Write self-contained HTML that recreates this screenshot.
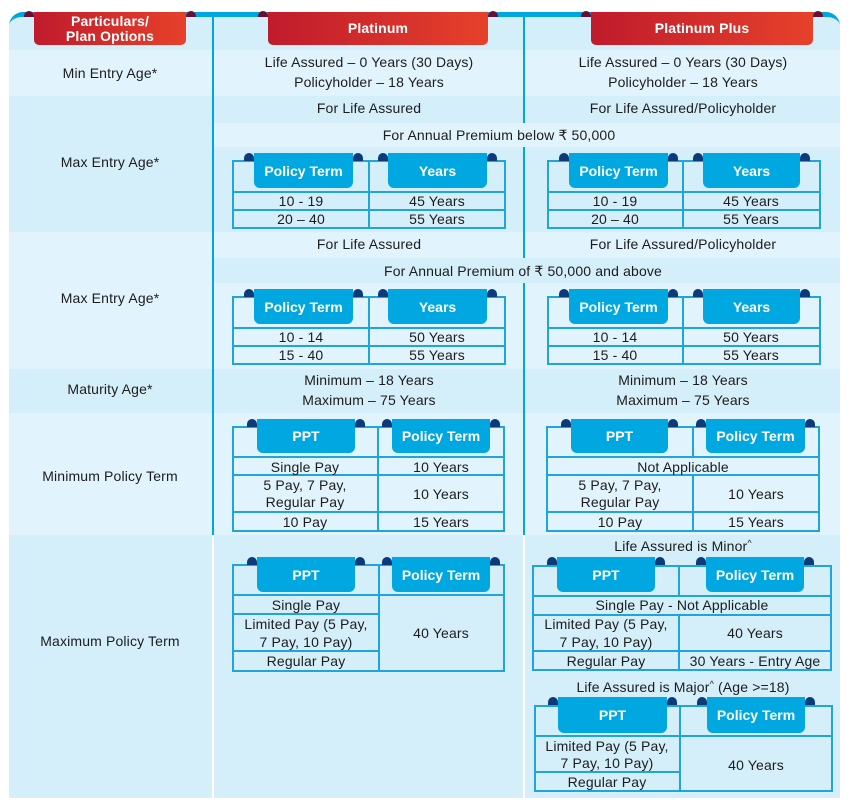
<!DOCTYPE html>
<html><head><meta charset="utf-8">
<style>
html,body{margin:0;padding:0;background:#fff;}
body{width:850px;height:802px;position:relative;overflow:hidden;font-family:"Liberation Sans","DejaVu Sans",sans-serif;}
.a{position:absolute;}
.t{position:absolute;transform:translate(-50%,-50%);white-space:nowrap;font-size:14px;color:#1c1c1c;line-height:1;letter-spacing:0.15px;}
.dk{position:absolute;background:#d4eefa;}
.lt{position:absolute;background:#e1f3fc;}
.h{position:absolute;height:2px;background:#1fa4dc;}
.v{position:absolute;width:2px;background:#1fa4dc;}
.tab{position:absolute;background:#00a7e0;border-radius:0 0 6px 6px;color:#fff;font-weight:bold;font-size:14px;display:flex;align-items:center;justify-content:center;white-space:nowrap;}
.b{position:absolute;width:10px;height:8px;background:#0c3b7c;border-radius:5px 5px 0 0;}
.rt{position:absolute;top:12px;height:33px;background:linear-gradient(90deg,#bf1b2c,#e6412b);border-radius:0 0 5px 5px;color:#fff;font-weight:bold;font-size:14px;}
.mb{position:absolute;top:11px;width:10px;height:6px;background:#6b0e33;border-radius:5px 5px 0 0;}
.wl{color:#fff;font-weight:bold;}
sup{font-size:9px;vertical-align:5px;line-height:0;}
</style></head><body>

<div class="a" style="left:9px;top:12px;width:831px;height:786px;box-sizing:border-box;border-top:5px solid #00a6e0;border-radius:14px 14px 0 0;overflow:hidden;">
 <div class="a" style="left:-9px;top:-17px;width:850px;height:802px;">
  <!-- left column backgrounds -->
  <div class="dk" style="left:9px;top:17px;width:203px;height:33px"></div>
  <div class="lt" style="left:9px;top:50px;width:203px;height:46px"></div>
  <div class="dk" style="left:9px;top:96px;width:203px;height:136px"></div>
  <div class="lt" style="left:9px;top:232px;width:203px;height:137px"></div>
  <div class="dk" style="left:9px;top:369px;width:203px;height:44px"></div>
  <div class="lt" style="left:9px;top:413px;width:203px;height:122px"></div>
  <div class="dk" style="left:9px;top:535px;width:203px;height:263px"></div>
  <!-- right backgrounds -->
  <div class="dk" style="left:212px;top:17px;width:628px;height:33px"></div>
  <div class="lt" style="left:212px;top:50px;width:628px;height:46px"></div>
  <div class="dk" style="left:212px;top:96px;width:628px;height:27px"></div>
  <div class="lt" style="left:212px;top:123px;width:628px;height:24px"></div>
  <div class="dk" style="left:212px;top:147px;width:628px;height:85px"></div>
  <div class="lt" style="left:212px;top:232px;width:628px;height:26px"></div>
  <div class="dk" style="left:212px;top:258px;width:628px;height:25px"></div>
  <div class="lt" style="left:212px;top:283px;width:628px;height:86px"></div>
  <div class="dk" style="left:212px;top:369px;width:628px;height:44px"></div>
  <div class="lt" style="left:212px;top:413px;width:628px;height:122px"></div>
  <div class="dk" style="left:212px;top:535px;width:628px;height:263px"></div>
  <!-- dividers -->
  <div class="a" style="left:212px;top:17px;width:2px;height:518px;background:#00a6e0"></div>
  <div class="a" style="left:523px;top:17px;width:2px;height:106px;background:#00a6e0"></div>
  <div class="a" style="left:523px;top:147px;width:2px;height:111px;background:#00a6e0"></div>
  <div class="a" style="left:523px;top:283px;width:2px;height:252px;background:#00a6e0"></div>
  <div class="a" style="left:212px;top:535px;width:2px;height:263px;background:#fff"></div>
  <div class="a" style="left:523px;top:535px;width:2px;height:263px;background:#fff"></div>
 </div>
</div>

<!-- red header tabs -->
<div class="rt" style="left:34px;width:152px;"></div>
<div class="mb" style="left:24px"></div><div class="mb" style="left:186px"></div>
<div class="rt" style="left:268px;width:220px;"></div>
<div class="mb" style="left:258px"></div><div class="mb" style="left:488px"></div>
<div class="rt" style="left:591px;width:222px;"></div>
<div class="mb" style="left:581px"></div><div class="mb" style="left:813px"></div>
<div class="t wl" style="left:110px;top:21px">Particulars/</div>
<div class="t wl" style="left:110px;top:36px">Plan Options</div>
<div class="t wl" style="left:378px;top:28px">Platinum</div>
<div class="t wl" style="left:702px;top:28px">Platinum Plus</div>

<!-- left labels -->
<div class="t" style="left:110px;top:73px">Min Entry Age*</div>
<div class="t" style="left:110px;top:162px">Max Entry Age*</div>
<div class="t" style="left:110px;top:298px">Max Entry Age*</div>
<div class="t" style="left:110px;top:389px">Maturity Age*</div>
<div class="t" style="left:110px;top:476px">Minimum Policy Term</div>
<div class="t" style="left:110px;top:641px">Maximum Policy Term</div>

<!-- plain rows -->
<div class="t" style="left:369px;top:62px">Life Assured – 0 Years (30 Days)</div>
<div class="t" style="left:369px;top:82px">Policyholder – 18 Years</div>
<div class="t" style="left:683px;top:62px">Life Assured – 0 Years (30 Days)</div>
<div class="t" style="left:683px;top:82px">Policyholder – 18 Years</div>
<div class="t" style="left:369px;top:108px">For Life Assured</div>
<div class="t" style="left:683px;top:108px">For Life Assured/Policyholder</div>
<div class="t" style="left:499px;top:135px">For Annual Premium below ₹ 50,000</div>
<div class="t" style="left:369px;top:244px">For Life Assured</div>
<div class="t" style="left:683px;top:244px">For Life Assured/Policyholder</div>
<div class="t" style="left:523px;top:271px">For Annual Premium of ₹ 50,000 and above</div>
<div class="t" style="left:369px;top:380px">Minimum – 18 Years</div>
<div class="t" style="left:369px;top:400px">Maximum – 75 Years</div>
<div class="t" style="left:683px;top:380px">Minimum – 18 Years</div>
<div class="t" style="left:683px;top:400px">Maximum – 75 Years</div>

<!-- T1 -->
<div class="h" style="left:233px;top:160px;width:273px"></div>
<div class="h" style="left:233px;top:191px;width:273px"></div>
<div class="h" style="left:233px;top:209px;width:273px"></div>
<div class="h" style="left:233px;top:227px;width:273px"></div>
<div class="v" style="left:232px;top:160px;height:69px"></div>
<div class="v" style="left:368px;top:160px;height:69px"></div>
<div class="v" style="left:504px;top:160px;height:69px"></div>
<div class="tab" style="left:254px;top:153px;width:99px;height:35px">Policy Term</div>
<div class="tab" style="left:388px;top:153px;width:99px;height:35px">Years</div>
<div class="b" style="left:244px;top:153px"></div><div class="b" style="left:353px;top:153px"></div>
<div class="b" style="left:378px;top:153px"></div><div class="b" style="left:487px;top:153px"></div>
<div class="t" style="left:301px;top:201px">10 - 19</div>
<div class="t" style="left:437px;top:201px">45 Years</div>
<div class="t" style="left:301px;top:219px">20 – 40</div>
<div class="t" style="left:437px;top:219px">55 Years</div>

<!-- T1b -->
<div class="h" style="left:548px;top:160px;width:273px"></div>
<div class="h" style="left:548px;top:191px;width:273px"></div>
<div class="h" style="left:548px;top:209px;width:273px"></div>
<div class="h" style="left:548px;top:227px;width:273px"></div>
<div class="v" style="left:547px;top:160px;height:69px"></div>
<div class="v" style="left:682px;top:160px;height:69px"></div>
<div class="v" style="left:819px;top:160px;height:69px"></div>
<div class="tab" style="left:569px;top:153px;width:99px;height:35px">Policy Term</div>
<div class="tab" style="left:703px;top:153px;width:97px;height:35px">Years</div>
<div class="b" style="left:559px;top:153px"></div><div class="b" style="left:668px;top:153px"></div>
<div class="b" style="left:693px;top:153px"></div><div class="b" style="left:800px;top:153px"></div>
<div class="t" style="left:615px;top:201px">10 - 19</div>
<div class="t" style="left:751px;top:201px">45 Years</div>
<div class="t" style="left:615px;top:219px">20 – 40</div>
<div class="t" style="left:751px;top:219px">55 Years</div>

<!-- T2 -->
<div class="h" style="left:233px;top:296px;width:273px"></div>
<div class="h" style="left:233px;top:327px;width:273px"></div>
<div class="h" style="left:233px;top:345px;width:273px"></div>
<div class="h" style="left:233px;top:363px;width:273px"></div>
<div class="v" style="left:232px;top:296px;height:69px"></div>
<div class="v" style="left:368px;top:296px;height:69px"></div>
<div class="v" style="left:504px;top:296px;height:69px"></div>
<div class="tab" style="left:254px;top:289px;width:99px;height:35px">Policy Term</div>
<div class="tab" style="left:388px;top:289px;width:99px;height:35px">Years</div>
<div class="b" style="left:244px;top:289px"></div><div class="b" style="left:353px;top:289px"></div>
<div class="b" style="left:378px;top:289px"></div><div class="b" style="left:487px;top:289px"></div>
<div class="t" style="left:301px;top:337px">10 - 14</div>
<div class="t" style="left:437px;top:337px">50 Years</div>
<div class="t" style="left:301px;top:355px">15 - 40</div>
<div class="t" style="left:437px;top:355px">55 Years</div>

<!-- T2b -->
<div class="h" style="left:548px;top:296px;width:273px"></div>
<div class="h" style="left:548px;top:327px;width:273px"></div>
<div class="h" style="left:548px;top:345px;width:273px"></div>
<div class="h" style="left:548px;top:363px;width:273px"></div>
<div class="v" style="left:547px;top:296px;height:69px"></div>
<div class="v" style="left:682px;top:296px;height:69px"></div>
<div class="v" style="left:819px;top:296px;height:69px"></div>
<div class="tab" style="left:569px;top:289px;width:99px;height:35px">Policy Term</div>
<div class="tab" style="left:703px;top:289px;width:97px;height:35px">Years</div>
<div class="b" style="left:559px;top:289px"></div><div class="b" style="left:668px;top:289px"></div>
<div class="b" style="left:693px;top:289px"></div><div class="b" style="left:800px;top:289px"></div>
<div class="t" style="left:615px;top:337px">10 - 14</div>
<div class="t" style="left:751px;top:337px">50 Years</div>
<div class="t" style="left:615px;top:355px">15 - 40</div>
<div class="t" style="left:751px;top:355px">55 Years</div>

<!-- T3 -->
<div class="h" style="left:233px;top:426px;width:272px"></div>
<div class="h" style="left:233px;top:456px;width:272px"></div>
<div class="h" style="left:233px;top:474px;width:272px"></div>
<div class="h" style="left:233px;top:511px;width:272px"></div>
<div class="h" style="left:233px;top:530px;width:272px"></div>
<div class="v" style="left:232px;top:426px;height:106px"></div>
<div class="v" style="left:377px;top:426px;height:106px"></div>
<div class="v" style="left:503px;top:426px;height:106px"></div>
<div class="tab" style="left:257px;top:419px;width:98px;height:34px">PPT</div>
<div class="tab" style="left:392px;top:419px;width:98px;height:34px">Policy Term</div>
<div class="b" style="left:247px;top:419px"></div><div class="b" style="left:355px;top:419px"></div>
<div class="b" style="left:382px;top:419px"></div><div class="b" style="left:490px;top:419px"></div>
<div class="t" style="left:305px;top:467px">Single Pay</div>
<div class="t" style="left:441px;top:467px">10 Years</div>
<div class="t" style="left:305px;top:485px">5 Pay, 7 Pay,</div>
<div class="t" style="left:305px;top:502px">Regular Pay</div>
<div class="t" style="left:441px;top:494px">10 Years</div>
<div class="t" style="left:305px;top:522px">10 Pay</div>
<div class="t" style="left:441px;top:522px">15 Years</div>

<!-- T3b -->
<div class="h" style="left:547px;top:426px;width:273px"></div>
<div class="h" style="left:547px;top:456px;width:273px"></div>
<div class="h" style="left:547px;top:474px;width:273px"></div>
<div class="h" style="left:547px;top:511px;width:273px"></div>
<div class="h" style="left:547px;top:530px;width:273px"></div>
<div class="v" style="left:546px;top:426px;height:106px"></div>
<div class="v" style="left:818px;top:426px;height:106px"></div>
<div class="v" style="left:692px;top:426px;height:31px"></div>
<div class="v" style="left:692px;top:474px;height:58px"></div>
<div class="tab" style="left:571px;top:419px;width:97px;height:34px">PPT</div>
<div class="tab" style="left:706px;top:419px;width:99px;height:34px">Policy Term</div>
<div class="b" style="left:561px;top:419px"></div><div class="b" style="left:668px;top:419px"></div>
<div class="b" style="left:696px;top:419px"></div><div class="b" style="left:805px;top:419px"></div>
<div class="t" style="left:683px;top:467px">Not Applicable</div>
<div class="t" style="left:620px;top:485px">5 Pay, 7 Pay,</div>
<div class="t" style="left:620px;top:502px">Regular Pay</div>
<div class="t" style="left:756px;top:494px">10 Years</div>
<div class="t" style="left:620px;top:522px">10 Pay</div>
<div class="t" style="left:756px;top:522px">15 Years</div>

<!-- T4 -->
<div class="h" style="left:233px;top:564px;width:272px"></div>
<div class="h" style="left:233px;top:594px;width:272px"></div>
<div class="h" style="left:233px;top:613px;width:147px"></div>
<div class="h" style="left:233px;top:650px;width:147px"></div>
<div class="h" style="left:233px;top:670px;width:272px"></div>
<div class="v" style="left:232px;top:564px;height:108px"></div>
<div class="v" style="left:378px;top:564px;height:108px"></div>
<div class="v" style="left:503px;top:564px;height:108px"></div>
<div class="tab" style="left:257px;top:557px;width:98px;height:35px">PPT</div>
<div class="tab" style="left:392px;top:557px;width:98px;height:35px">Policy Term</div>
<div class="b" style="left:247px;top:557px"></div><div class="b" style="left:355px;top:557px"></div>
<div class="b" style="left:382px;top:557px"></div><div class="b" style="left:490px;top:557px"></div>
<div class="t" style="left:306px;top:605px">Single Pay</div>
<div class="t" style="left:306px;top:624px">Limited Pay (5 Pay,</div>
<div class="t" style="left:306px;top:642px">7 Pay, 10 Pay)</div>
<div class="t" style="left:306px;top:661px">Regular Pay</div>
<div class="t" style="left:441px;top:633px">40 Years</div>

<!-- T5 minor -->
<div class="t" style="left:683px;top:546px">Life Assured is Minor<sup>^</sup></div>
<div class="h" style="left:533px;top:565px;width:299px"></div>
<div class="h" style="left:533px;top:595px;width:299px"></div>
<div class="h" style="left:533px;top:614px;width:299px"></div>
<div class="h" style="left:533px;top:650px;width:299px"></div>
<div class="h" style="left:533px;top:669px;width:299px"></div>
<div class="v" style="left:532px;top:565px;height:106px"></div>
<div class="v" style="left:830px;top:565px;height:106px"></div>
<div class="v" style="left:678px;top:565px;height:31px"></div>
<div class="v" style="left:678px;top:614px;height:57px"></div>
<div class="tab" style="left:557px;top:557px;width:98px;height:35px">PPT</div>
<div class="tab" style="left:706px;top:557px;width:98px;height:35px">Policy Term</div>
<div class="b" style="left:547px;top:557px"></div><div class="b" style="left:655px;top:557px"></div>
<div class="b" style="left:696px;top:557px"></div><div class="b" style="left:804px;top:557px"></div>
<div class="t" style="left:682px;top:605px">Single Pay - Not Applicable</div>
<div class="t" style="left:606px;top:624px">Limited Pay (5 Pay,</div>
<div class="t" style="left:606px;top:642px">7 Pay, 10 Pay)</div>
<div class="t" style="left:755px;top:633px">40 Years</div>
<div class="t" style="left:606px;top:661px">Regular Pay</div>
<div class="t" style="left:755px;top:661px">30 Years - Entry Age</div>

<!-- T6 major -->
<div class="t" style="left:683px;top:687px">Life Assured is Major<sup>^</sup> (Age &gt;=18)</div>
<div class="h" style="left:535px;top:705px;width:298px"></div>
<div class="h" style="left:535px;top:735px;width:298px"></div>
<div class="h" style="left:535px;top:771px;width:146px"></div>
<div class="h" style="left:535px;top:790px;width:298px"></div>
<div class="v" style="left:534px;top:705px;height:87px"></div>
<div class="v" style="left:679px;top:705px;height:87px"></div>
<div class="v" style="left:831px;top:705px;height:87px"></div>
<div class="tab" style="left:558px;top:697px;width:109px;height:36px">PPT</div>
<div class="tab" style="left:707px;top:697px;width:98px;height:36px">Policy Term</div>
<div class="b" style="left:548px;top:697px"></div><div class="b" style="left:667px;top:697px"></div>
<div class="b" style="left:697px;top:697px"></div><div class="b" style="left:805px;top:697px"></div>
<div class="t" style="left:607px;top:746px">Limited Pay (5 Pay,</div>
<div class="t" style="left:607px;top:763px">7 Pay, 10 Pay)</div>
<div class="t" style="left:607px;top:782px">Regular Pay</div>
<div class="t" style="left:756px;top:765px">40 Years</div>

</body></html>
